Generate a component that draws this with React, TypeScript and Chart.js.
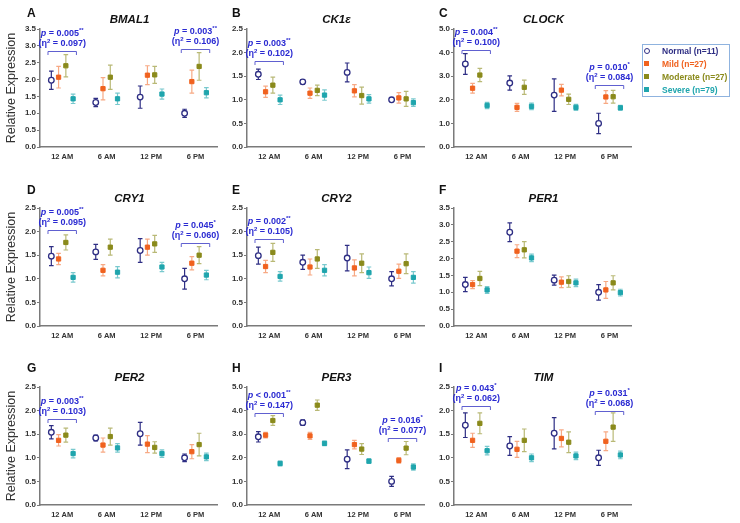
import React, { useEffect, useRef } from 'react';
import { Chart, registerables } from 'chart.js';
Chart.register(...registerables);

// ---------- data ----------
const TIMES = ['12 AM', '6 AM', '12 PM', '6 PM'];
const GROUPS = ['Normal (n=11)', 'Mild (n=27)', 'Moderate (n=27)', 'Severe (n=79)'];

// rows: Normal, Mild, Moderate, Severe ; columns: 12 AM, 6 AM, 12 PM, 6 PM
const BMAL1_MEAN = [[1.98, 1.32, 1.48, 1.0], [2.07, 1.73, 2.13, 1.94], [2.41, 2.07, 2.14, 2.39], [1.43, 1.43, 1.57, 1.61]];
const BMAL1_ERR = [[0.27, 0.12, 0.33, 0.12], [0.32, 0.33, 0.28, 0.34], [0.33, 0.36, 0.25, 0.41], [0.14, 0.17, 0.15, 0.15]];

const CK1E_MEAN = [[1.54, 1.38, 1.58, 1.0], [1.17, 1.14, 1.19, 1.04], [1.31, 1.2, 1.09, 1.02], [1.0, 1.1, 1.02, 0.94]];
const CK1E_ERR = [[0.11, 0.05, 0.2, 0.04], [0.12, 0.11, 0.13, 0.11], [0.17, 0.11, 0.18, 0.16], [0.1, 0.11, 0.09, 0.08]];

const CLOCK_MEAN = [[3.52, 2.71, 2.2, 1.0], [2.49, 1.68, 2.41, 2.12], [3.05, 2.53, 2.02, 2.13], [1.76, 1.72, 1.68, 1.66]];
const CLOCK_ERR = [[0.44, 0.3, 0.69, 0.43], [0.21, 0.17, 0.24, 0.27], [0.28, 0.3, 0.22, 0.27], [0.13, 0.14, 0.13, 0.1]];

const CRY1_MEAN = [[1.48, 1.57, 1.6, 1.0], [1.42, 1.18, 1.67, 1.33], [1.77, 1.67, 1.74, 1.5], [1.03, 1.14, 1.25, 1.08]];
const CRY1_ERR = [[0.2, 0.16, 0.25, 0.22], [0.12, 0.12, 0.17, 0.14], [0.16, 0.17, 0.18, 0.18], [0.1, 0.12, 0.1, 0.1]];

const CRY2_MEAN = [[1.49, 1.35, 1.44, 1.0], [1.26, 1.25, 1.23, 1.16], [1.56, 1.42, 1.33, 1.32], [1.05, 1.18, 1.13, 1.03]];
const CRY2_ERR = [[0.18, 0.15, 0.27, 0.15], [0.13, 0.17, 0.17, 0.15], [0.19, 0.2, 0.2, 0.21], [0.1, 0.12, 0.12, 0.12]];

const PER1_MEAN = [[1.23, 2.78, 1.36, 1.0], [1.23, 2.22, 1.3, 1.07], [1.41, 2.26, 1.32, 1.28], [1.07, 2.02, 1.28, 0.99]];
const PER1_ERR = [[0.21, 0.28, 0.15, 0.23], [0.12, 0.19, 0.16, 0.25], [0.21, 0.24, 0.17, 0.21], [0.1, 0.11, 0.11, 0.1]];

const PER2_MEAN = [[1.54, 1.42, 1.51, 1.0], [1.37, 1.27, 1.29, 1.13], [1.48, 1.45, 1.22, 1.28], [1.09, 1.21, 1.09, 1.02]];
const PER2_ERR = [[0.14, 0.06, 0.24, 0.08], [0.12, 0.15, 0.18, 0.15], [0.15, 0.18, 0.12, 0.24], [0.09, 0.09, 0.08, 0.08]];

const PER3_MEAN = [[2.89, 3.49, 1.94, 1.0], [2.96, 2.93, 2.56, 1.89], [3.58, 4.23, 2.37, 2.41], [1.76, 2.61, 1.86, 1.61]];
const PER3_ERR = [[0.22, 0.12, 0.4, 0.21], [0.12, 0.15, 0.18, 0.12], [0.21, 0.22, 0.23, 0.28], [0.1, 0.1, 0.1, 0.13]];

const TIM_MEAN = [[1.69, 1.25, 1.52, 1.0], [1.37, 1.18, 1.41, 1.35], [1.73, 1.37, 1.33, 1.65], [1.15, 1.0, 1.04, 1.06]];
const TIM_ERR = [[0.26, 0.2, 0.33, 0.16], [0.15, 0.17, 0.18, 0.2], [0.22, 0.24, 0.22, 0.3], [0.09, 0.08, 0.08, 0.08]];

// significance notes: time index, comparison, p value, stars, eta squared, bracket level (data units)
const BMAL1_NOTES = [
  { t: 0, op: '=', p: '0.005', sig: '**', eta: '0.097', level: 2.86 },
  { t: 3, op: '=', p: '0.003', sig: '**', eta: '0.106', level: 2.91 },
];
const CK1E_NOTES = [{ t: 0, op: '=', p: '0.003', sig: '**', eta: '0.102', level: 1.83 }];
const CLOCK_NOTES = [
  { t: 0, op: '=', p: '0.004', sig: '**', eta: '0.100', level: 4.12 },
  { t: 3, op: '=', p: '0.010', sig: '*', eta: '0.084', level: 2.64 },
];
const CRY1_NOTES = [
  { t: 0, op: '=', p: '0.005', sig: '**', eta: '0.095', level: 2.04 },
  { t: 3, op: '=', p: '0.045', sig: '*', eta: '0.060', level: 1.75 },
];
const CRY2_NOTES = [{ t: 0, op: '=', p: '0.002', sig: '**', eta: '0.105', level: 1.85 }];
const PER1_NOTES = [];
const PER2_NOTES = [{ t: 0, op: '=', p: '0.003', sig: '**', eta: '0.103', level: 1.83 }];
const PER3_NOTES = [
  { t: 0, op: '<', p: '0.001', sig: '**', eta: '0.147', level: 3.9 },
  { t: 3, op: '=', p: '0.016', sig: '*', eta: '0.077', level: 2.85 },
];
const TIM_NOTES = [
  { t: 0, op: '=', p: '0.043', sig: '*', eta: '0.062', level: 2.09 },
  { t: 3, op: '=', p: '0.031', sig: '*', eta: '0.068', level: 2.0 },
];

// ---------- styling / layout ----------
const FONT = "'Liberation Sans', Arial, Helvetica, sans-serif";
const SERIES_COLORS = ['#2e2e84', '#f0621f', '#8a8a1b', '#1fa5ad'];
const BAR_COLORS = ['#2e2e84', 'rgba(240,98,31,0.55)', 'rgba(138,138,27,0.6)', 'rgba(31,165,173,0.6)'];
const OFFSETS = [-0.245, -0.082, 0.082, 0.245];
const AXIS = '#7a7a7a';
const NOTE_COLOR = '#2a2ad2';
const BRACKET_COLOR = '#6060d0';

const X0 = [40, 247, 454];
const PW = 179;
const Y0 = [29, 208, 387];
const PH = 118;
const YW = 40;
const XH = 24;
const PADT = 16;
const PADR = 4;
const LETTER_X = [27, 232, 439];
const LETTER_Y = [12.5, 190, 367.5];

const PANELS = [
  { letter: 'A', title: 'BMAL1', mean: BMAL1_MEAN, err: BMAL1_ERR, notes: BMAL1_NOTES, yMax: 3.5, step: 0.5 },
  { letter: 'B', title: 'CK1ε', mean: CK1E_MEAN, err: CK1E_ERR, notes: CK1E_NOTES, yMax: 2.5, step: 0.5 },
  { letter: 'C', title: 'CLOCK', mean: CLOCK_MEAN, err: CLOCK_ERR, notes: CLOCK_NOTES, yMax: 5, step: 1 },
  { letter: 'D', title: 'CRY1', mean: CRY1_MEAN, err: CRY1_ERR, notes: CRY1_NOTES, yMax: 2.5, step: 0.5 },
  { letter: 'E', title: 'CRY2', mean: CRY2_MEAN, err: CRY2_ERR, notes: CRY2_NOTES, yMax: 2.5, step: 0.5 },
  { letter: 'F', title: 'PER1', mean: PER1_MEAN, err: PER1_ERR, notes: PER1_NOTES, yMax: 3.5, step: 0.5 },
  { letter: 'G', title: 'PER2', mean: PER2_MEAN, err: PER2_ERR, notes: PER2_NOTES, yMax: 2.5, step: 0.5 },
  { letter: 'H', title: 'PER3', mean: PER3_MEAN, err: PER3_ERR, notes: PER3_NOTES, yMax: 5, step: 1 },
  { letter: 'I', title: 'TIM', mean: TIM_MEAN, err: TIM_ERR, notes: TIM_NOTES, yMax: 2.5, step: 0.5 },
];

function drawRich(ctx, parts, cx, cy) {
  const fontOf = (p) => `${p.italic ? 'italic ' : ''}bold ${p.sup ? 6 : 9}px ${FONT}`;
  let total = 0;
  parts.forEach((p) => {
    ctx.font = fontOf(p);
    p.w = ctx.measureText(p.text).width;
    total += p.w;
  });
  let x = cx - total / 2;
  ctx.textBaseline = 'middle';
  ctx.textAlign = 'left';
  parts.forEach((p) => {
    ctx.font = fontOf(p);
    ctx.fillText(p.text, x, p.sup ? cy - 3 : cy);
    x += p.w;
  });
}

function Panel({ p, row, col }) {
  const ref = useRef(null);
  useEffect(() => {
    const errorBars = {
      id: 'errorBars',
      beforeDatasetsDraw(chart) {
        const { ctx } = chart;
        const y = chart.scales.y;
        chart.data.datasets.forEach((ds, s) => {
          const meta = chart.getDatasetMeta(s);
          ctx.save();
          ctx.strokeStyle = BAR_COLORS[s];
          ctx.lineWidth = 1.2;
          meta.data.forEach((pt, i) => {
            const v = p.mean[s][i];
            const e = p.err[s][i];
            const yt = y.getPixelForValue(v + e);
            const yb = y.getPixelForValue(v - e);
            const x = pt.x;
            ctx.beginPath();
            ctx.moveTo(x, yt);
            ctx.lineTo(x, yb);
            ctx.moveTo(x - 2.3, yt);
            ctx.lineTo(x + 2.3, yt);
            ctx.moveTo(x - 2.3, yb);
            ctx.lineTo(x + 2.3, yb);
            ctx.stroke();
          });
          ctx.restore();
        });
      },
    };
    const notes = {
      id: 'sigNotes',
      afterDatasetsDraw(chart) {
        const { ctx } = chart;
        const { x, y } = chart.scales;
        p.notes.forEach((n) => {
          const cx = x.getPixelForValue(n.t);
          const x1 = x.getPixelForValue(n.t - 0.32);
          const x2 = x.getPixelForValue(n.t + 0.32);
          const by = Math.round(y.getPixelForValue(n.level)) + 0.5;
          ctx.save();
          ctx.strokeStyle = BRACKET_COLOR;
          ctx.lineWidth = 1;
          ctx.beginPath();
          ctx.moveTo(x1, by + 3.5);
          ctx.lineTo(x1, by);
          ctx.lineTo(x2, by);
          ctx.lineTo(x2, by + 3.5);
          ctx.stroke();
          ctx.fillStyle = NOTE_COLOR;
          drawRich(ctx, [
            { text: 'p', italic: true },
            { text: ` ${n.op} ${n.p}` },
            { text: n.sig, sup: true },
          ], cx, by - 18);
          drawRich(ctx, [
            { text: '(η' },
            { text: '2', sup: true },
            { text: ` = ${n.eta})` },
          ], cx, by - 7.5);
          ctx.restore();
        });
      },
    };
    const chart = new Chart(ref.current, {
      type: 'scatter',
      data: {
        datasets: GROUPS.map((g, s) => ({
          label: g,
          data: TIMES.map((_, i) => ({ x: i + OFFSETS[s], y: p.mean[s][i] })),
          pointStyle: s === 0 ? 'circle' : 'rect',
          pointRadius: s === 0 ? 2.8 : 3,
          pointBorderWidth: s === 0 ? 1.3 : 1,
          pointBackgroundColor: s === 0 ? '#ffffff' : SERIES_COLORS[s],
          pointBorderColor: SERIES_COLORS[s],
          showLine: false,
        })),
      },
      options: {
        animation: false,
        responsive: false,
        devicePixelRatio: 1,
        events: [],
        layout: { padding: { left: 0, top: PADT, right: PADR, bottom: 0 } },
        plugins: { legend: { display: false }, tooltip: { enabled: false } },
        scales: {
          x: {
            type: 'linear',
            min: -0.5,
            max: 3.5,
            afterBuildTicks: (s) => { s.ticks = TIMES.map((_, i) => ({ value: i })); },
            afterFit: (s) => { s.height = XH; },
            grid: { display: false, drawTicks: false },
            border: { display: true, color: AXIS, width: 1.5 },
            ticks: {
              autoSkip: false,
              maxRotation: 0,
              padding: 5,
              color: '#333',
              font: { family: FONT, size: 7.5, weight: 'bold' },
              callback: (v) => TIMES[v] ?? '',
            },
          },
          y: {
            min: 0,
            max: p.yMax,
            afterFit: (s) => { s.width = YW; },
            grid: { drawOnChartArea: false, drawTicks: true, tickLength: 3, color: AXIS, lineWidth: 1 },
            border: { display: true, color: AXIS, width: 1.5 },
            ticks: {
              stepSize: p.step,
              padding: 1,
              color: '#333',
              font: { family: FONT, size: 8, weight: 'bold' },
              callback: (v) => Number(v).toFixed(1),
            },
            title: {
              display: col === 0,
              text: 'Relative Expression',
              color: '#333',
              font: { family: FONT, size: 12.5 },
              padding: { top: 4.5, bottom: 0 },
            },
          },
        },
      },
      plugins: [errorBars, notes],
    });
    return () => chart.destroy();
  }, []);
  const w = YW + PW + PADR;
  const h = PADT + PH + XH;
  return (
    <>
      <canvas
        ref={ref}
        width={w}
        height={h}
        style={{ position: 'absolute', left: X0[col] - YW, top: Y0[row] - PADT, width: w, height: h }}
      />
      <div style={{ position: 'absolute', left: LETTER_X[col], top: LETTER_Y[row], transform: 'translateY(-50%)', font: `bold 12px ${FONT}`, color: '#111', lineHeight: 1 }}>
        {p.letter}
      </div>
      <div style={{ position: 'absolute', left: X0[col] + PW / 2, top: Y0[row] - 9, transform: 'translate(-50%, -50%)', font: `italic bold 11.5px ${FONT}`, color: '#111', lineHeight: 1, whiteSpace: 'nowrap' }}>
        {p.title}
      </div>
    </>
  );
}

function Legend() {
  const rowsY = [51, 64, 77, 90];
  return (
    <div style={{ position: 'absolute', left: 642, top: 44, width: 88, height: 53, boxSizing: 'border-box', border: '1px solid #8fb3df', background: '#fff' }}>
      {GROUPS.map((g, s) => (
        <React.Fragment key={g}>
          <div
            style={{
              position: 'absolute',
              left: 647 - 642 - 3 - 1,
              top: rowsY[s] - 44 - 3 - 1,
              width: s === 0 ? 4 : 5,
              height: s === 0 ? 4 : 5,
              borderRadius: s === 0 ? '50%' : 0,
              border: s === 0 ? `1.3px solid ${SERIES_COLORS[0]}` : 'none',
              background: s === 0 ? '#fff' : SERIES_COLORS[s],
            }}
          />
          <div style={{ position: 'absolute', left: 662 - 642 - 1, top: rowsY[s] - 44 - 1, transform: 'translateY(-50%)', font: `bold 8.5px ${FONT}`, color: SERIES_COLORS[s], whiteSpace: 'nowrap', lineHeight: 1 }}>
            {g}
          </div>
        </React.Fragment>
      ))}
    </div>
  );
}

export default function App() {
  return (
    <div style={{ position: 'fixed', left: 0, top: 0, width: 740, height: 523, background: '#fff', overflow: 'hidden' }}>
      {PANELS.map((p, k) => (
        <Panel key={p.letter} p={p} row={Math.floor(k / 3)} col={k % 3} />
      ))}
      <Legend />
    </div>
  );
}
